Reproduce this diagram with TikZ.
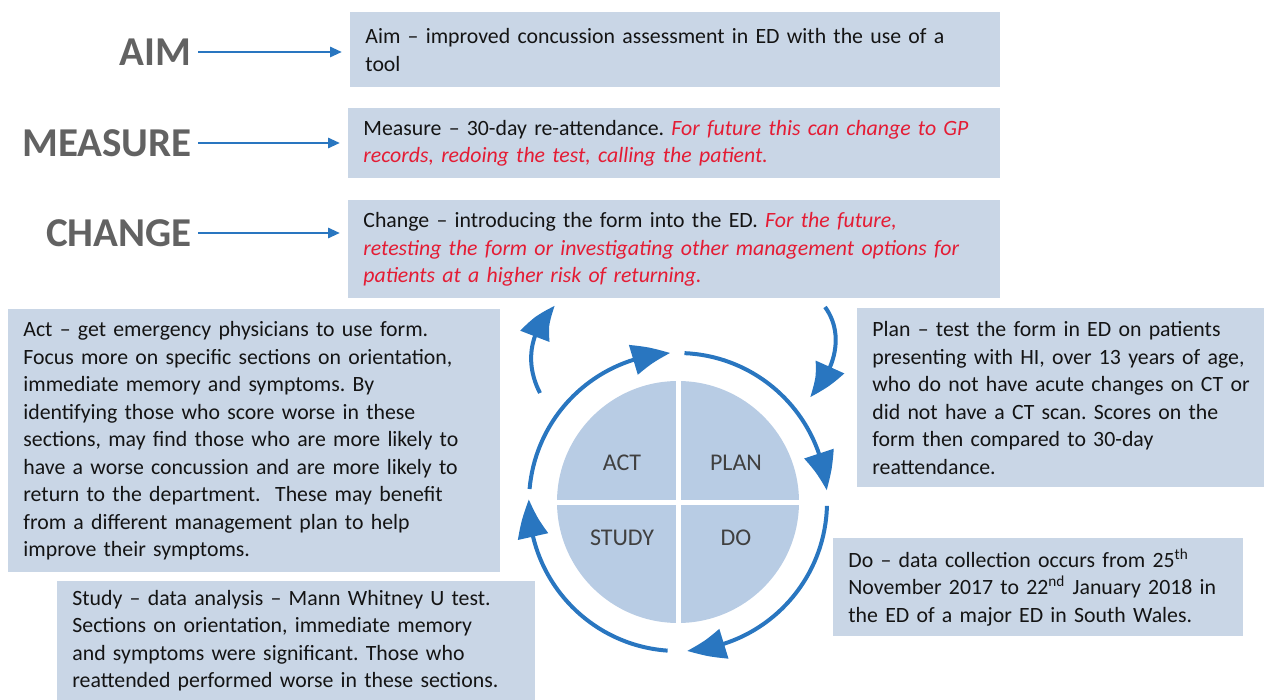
\documentclass[tikz,border=0pt]{standalone}
\usepackage{fontspec}
\setmainfont{Carlito}
\usetikzlibrary{arrows.meta,bending}

\definecolor{boxblue}{RGB}{201,214,230}
\definecolor{pieblue}{RGB}{184,204,228}
\definecolor{cycblue}{RGB}{41,118,192}
\definecolor{futred}{RGB}{228,28,52}
\definecolor{hdgray}{RGB}{98,98,98}
\definecolor{txt}{RGB}{20,20,20}

\newcommand{\fut}[1]{\textcolor{futred}{\itshape #1}}
\frenchspacing

\begin{document}
\begin{tikzpicture}[x=0.5pt, y=0.5pt,
    box/.style={fill=boxblue, anchor=north west, inner xsep=7.5pt, inner ysep=0pt,
        align=left, text=txt, font=\fontsize{10.9}{13.75}\selectfont},
    hd/.style={anchor=east, inner sep=3pt, text=hdgray, font=\fontsize{20.5}{22}\selectfont\bfseries},
    hdarrow/.style={draw=cycblue, line width=1.4pt, -{Triangle[length=6pt,width=5pt]}, shorten >=4pt},
    cyc/.style={draw=cycblue, line width=2pt, -{Triangle[length=19pt,width=15pt,bend]}},
    quarter/.style={text=black!75, font=\fontsize{12}{13}\selectfont}]
    \useasboundingbox (0,0) rectangle (1264,-700);

    % aim, measure, change
    \node[box, text width=310pt, minimum height=37.5pt] (aim) at (350,-12)
        {Aim -- improved concussion assessment in ED with the use of a\\tool};
    \node[box, text width=311pt, minimum height=35pt] (measure) at (348,-108)
        {Measure -- 30-day re-attendance. \fut{For future this can change to GP}\\
         \fut{records, redoing the test, calling the patient.}};
    \node[box, text width=311pt, minimum height=49pt] (change) at (348,-200)
        {Change -- introducing the form into the ED. \fut{For the future,}\\
         \fut{retesting the form or investigating other management options for}\\
         \fut{patients at a higher risk of returning.}};

    \node[hd] (aimlbl) at (198,-52) {AIM};
    \node[hd] (measlbl) at (198,-143) {MEASURE};
    \node[hd] (chglbl) at (198,-233) {CHANGE};
    \draw[hdarrow] (aimlbl.east) -- (aimlbl.east -| aim.west);
    \draw[hdarrow] (measlbl.east) -- (measlbl.east -| measure.west);
    \draw[hdarrow] (chglbl.east) -- (chglbl.east -| change.west);

    % the four steps
    \node[box, text width=231pt, minimum height=131.5pt] (actbox) at (8,-309)
        {Act -- get emergency physicians to use form.\\
         Focus more on specific sections on orientation,\\
         immediate memory and symptoms. By\\
         identifying those who score worse in these\\
         sections, may find those who are more likely to\\
         have a worse concussion and are more likely to\\
         return to the department.\ \ These may benefit\\
         from a different management plan to help\\
         improve their symptoms.};
    \node[box, text width=224pt, minimum height=59.5pt] (studybox) at (57,-581)
        {Study -- data analysis -- Mann Whitney U test.\\
         Sections on orientation, immediate memory\\
         and symptoms were significant. Those who\\
         reattended performed worse in these sections.};
    \node[box, text width=202pt, minimum height=89.5pt] (planbox) at (857,-308)
        {Plan -- test the form in ED on patients\\
         presenting with HI, over 13 years of age,\\
         who do not have acute changes on CT or\\
         did not have a CT scan. Scores on the\\
         form then compared to 30-day\\
         reattendance.};
    \node[box, text width=190pt, minimum height=49pt] (dobox) at (833,-538)
        {Do -- data collection occurs from 25\textsuperscript{th}\\
         November 2017 to 22\textsuperscript{nd} January 2018 in\\
         the ED of a major ED in South Wales.};

    % cycle
    \coordinate (c) at (678,-502);
    \fill[pieblue] (c) circle (60.5pt);
    \draw[white, line width=2.5pt] ([xshift=-62pt]c) -- ([xshift=62pt]c)
        ([yshift=-62pt]c) -- ([yshift=62pt]c);
    \node[quarter] (act) at (622,-463) {ACT};
    \node[quarter] (plan) at (736,-463) {PLAN};
    \node[quarter] (study) at (622,-538) {STUDY};
    \node[quarter] (do) at (736,-538) {DO};

    \foreach \a/\b in {175/93, 87.5/4.5, -1.5/-86.5, -94/-181}
        \draw[cyc] ([shift={(\a:74.5pt)}]c) arc (\a:\b:74.5pt);

    \draw[cyc] (540,-393) .. controls (524,-362) and (530,-330) .. (555,-306);
    \draw[cyc] (825,-307) .. controls (842,-330) and (840,-365) .. (810,-397);
\end{tikzpicture}
\end{document}
